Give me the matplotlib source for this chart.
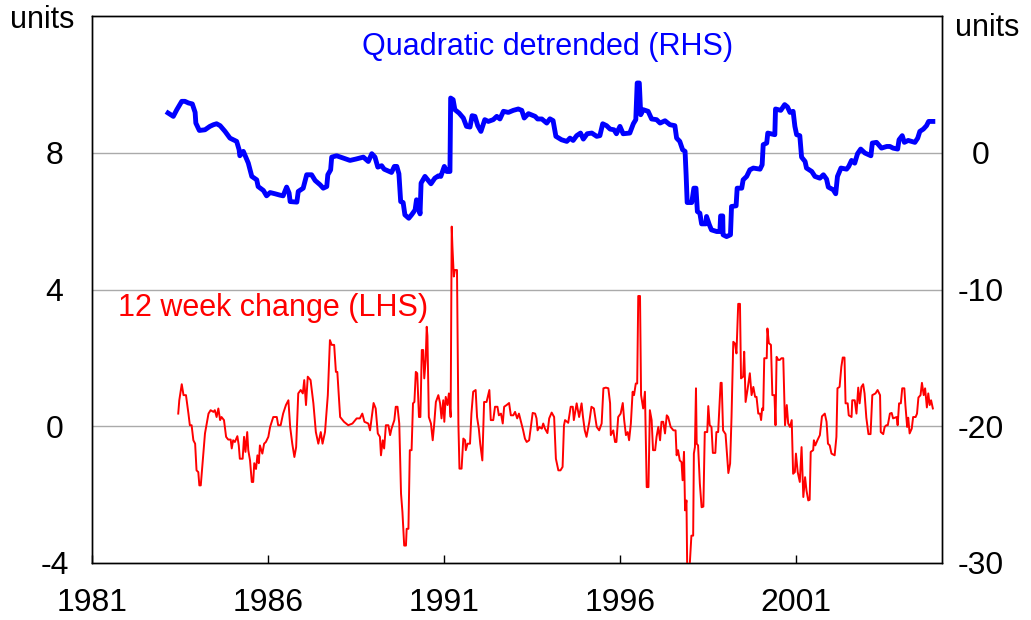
import matplotlib
matplotlib.use("Agg")
import matplotlib.pyplot as plt

plt.rcParams["font.family"] = ["Liberation Sans", "DejaVu Sans"]

# Quadratic detrended series (RHS units)
blue_x = [1983.16, 1983.31, 1983.41, 1983.55, 1983.64, 1983.74, 1983.85, 1983.93, 1983.95, 1984.05,
          1984.21, 1984.35, 1984.45, 1984.54, 1984.64, 1984.78, 1984.92, 1985.11, 1985.18, 1985.20,
          1985.30, 1985.37, 1985.44, 1985.54, 1985.68, 1985.72, 1985.87, 1985.96, 1986.06, 1986.20,
          1986.34, 1986.43, 1986.53, 1986.60, 1986.63, 1986.82, 1986.86, 1987.00, 1987.10, 1987.24,
          1987.34, 1987.48, 1987.57, 1987.67, 1987.70, 1987.78, 1987.81, 1987.95, 1988.14, 1988.33,
          1988.50, 1988.71, 1988.85, 1988.95, 1989.04, 1989.12, 1989.23, 1989.30, 1989.51, 1989.59,
          1989.66, 1989.72, 1989.77, 1989.84, 1989.89, 1990.00, 1990.08, 1990.18, 1990.22, 1990.27,
          1990.32, 1990.35, 1990.46, 1990.54, 1990.63, 1990.74, 1990.84, 1990.91, 1991.01, 1991.08,
          1991.17, 1991.19, 1991.26, 1991.31, 1991.43, 1991.55, 1991.64, 1991.74, 1991.80, 1991.88,
          1991.96, 1992.05, 1992.16, 1992.26, 1992.40, 1992.50, 1992.59, 1992.69, 1992.83, 1992.97,
          1993.11, 1993.21, 1993.28, 1993.40, 1993.59, 1993.66, 1993.78, 1993.92, 1994.01, 1994.10,
          1994.18, 1994.34, 1994.49, 1994.58, 1994.67, 1994.77, 1994.88, 1994.96, 1995.07, 1995.20,
          1995.34, 1995.43, 1995.51, 1995.62, 1995.72, 1995.83, 1995.90, 1996.00, 1996.09, 1996.28,
          1996.38, 1996.45, 1996.49, 1996.55, 1996.59, 1996.66, 1996.80, 1996.90, 1997.04, 1997.14,
          1997.28, 1997.42, 1997.56, 1997.61, 1997.70, 1997.78, 1997.85, 1997.88, 1997.91, 1998.04,
          1998.10, 1998.16, 1998.20, 1998.27, 1998.32, 1998.44, 1998.46, 1998.54, 1998.60, 1998.75,
          1998.84, 1998.86, 1998.92, 1998.93, 1999.03, 1999.14, 1999.17, 1999.30, 1999.33, 1999.46,
          1999.50, 1999.60, 1999.69, 1999.79, 1999.98, 2000.04, 2000.07, 2000.17, 2000.20, 2000.40,
          2000.42, 2000.57, 2000.68, 2000.76, 2000.83, 2000.92, 2000.97, 2001.02, 2001.11, 2001.16,
          2001.26, 2001.30, 2001.45, 2001.54, 2001.68, 2001.78, 2001.87, 2001.92, 2002.06, 2002.13,
          2002.18, 2002.28, 2002.44, 2002.50, 2002.58, 2002.67, 2002.75, 2002.84, 2002.96, 2003.13,
          2003.17, 2003.29, 2003.43, 2003.58, 2003.67, 2003.76, 2003.89, 2003.93, 2004.02, 2004.08,
          2004.19, 2004.29, 2004.38, 2004.46, 2004.52, 2004.62, 2004.71, 2004.77, 2004.89]
blue_y = [2.91, 2.66, 3.15, 3.76, 3.76, 3.64, 3.57, 2.95, 2.17, 1.63,
          1.68, 1.93, 2.05, 2.12, 1.98, 1.56, 1.07, 0.83, 0.22, -0.22,
          0.10, -0.32, -0.75, -1.73, -1.98, -2.47, -2.76, -3.15, -2.91, -3.00,
          -3.10, -3.15, -2.51, -2.95, -3.57, -3.61, -2.83, -2.59, -1.61, -1.61,
          -2.03, -2.34, -2.59, -2.47, -1.61, -1.25, -0.32, -0.22, -0.39, -0.56,
          -0.46, -0.32, -0.64, -0.07, -0.32, -1.05, -0.95, -1.20, -1.44, -1.00,
          -1.00, -1.54, -3.57, -3.64, -4.54, -4.79, -4.54, -4.18, -3.44, -3.69,
          -4.47, -2.22, -1.73, -1.98, -2.27, -1.86, -1.69, -1.73, -1.00, -1.37,
          -1.37, 4.00, 3.88, 3.15, 2.90, 2.54, 1.93, 1.88, 2.71, 2.66,
          1.98, 1.56, 2.42, 2.29, 2.42, 2.66, 2.47, 3.03, 2.95, 3.10,
          3.20, 3.10, 2.54, 2.86, 2.66, 2.47, 2.47, 2.17, 2.48, 2.35,
          1.20, 0.95, 0.83, 1.07, 0.90, 1.25, 1.44, 1.00, 1.39, 1.44,
          1.20, 1.25, 2.12, 1.98, 1.73, 1.68, 1.39, 1.93, 1.39, 1.44,
          2.12, 2.42, 5.10, 5.10, 2.78, 3.15, 3.03, 2.47, 2.42, 2.17,
          2.34, 2.05, 1.98, 1.07, 0.83, 0.22, 0.10, -1.61, -3.64, -3.64,
          -2.59, -2.59, -4.30, -4.42, -5.20, -5.20, -4.66, -5.27, -5.64, -5.76,
          -5.76, -4.62, -4.62, -6.00, -6.13, -6.00, -3.93, -3.88, -2.59, -2.59,
          -1.98, -1.73, -1.25, -1.12, -1.20, -0.88, 0.59, 0.71, 1.44, 1.32,
          3.20, 3.10, 3.52, 3.35, 2.95, 3.03, 1.93, 1.32, 1.25, -0.32,
          -0.64, -1.12, -1.37, -1.73, -1.86, -1.61, -1.93, -2.51, -2.71, -3.00,
          -1.73, -1.12, -1.20, -1.00, -0.56, -0.76, -0.07, 0.27, -0.02, -0.22,
          0.71, 0.76, 0.34, 0.46, 0.46, 0.34, 0.27, 0.95, 1.25, 0.76,
          0.90, 0.83, 0.76, 1.07, 1.56, 1.73, 1.98, 2.29, 2.29]

# 12 week change series (LHS units)
red_x = [1983.45, 1983.48, 1983.55, 1983.60, 1983.67, 1983.74, 1983.78, 1983.83, 1983.88, 1983.93,
         1983.97, 1984.02, 1984.05, 1984.09, 1984.14, 1984.21, 1984.31, 1984.37, 1984.45, 1984.49,
         1984.54, 1984.59, 1984.64, 1984.68, 1984.75, 1984.81, 1984.87, 1984.94, 1984.97, 1985.01,
         1985.06, 1985.13, 1985.17, 1985.20, 1985.28, 1985.32, 1985.36, 1985.41, 1985.44, 1985.49,
         1985.54, 1985.58, 1985.61, 1985.66, 1985.70, 1985.74, 1985.77, 1985.84, 1985.89, 1985.94,
         1986.01, 1986.06, 1986.15, 1986.25, 1986.29, 1986.36, 1986.43, 1986.51, 1986.58, 1986.63,
         1986.69, 1986.75, 1986.80, 1986.86, 1986.93, 1986.99, 1987.03, 1987.08, 1987.13, 1987.21,
         1987.29, 1987.36, 1987.43, 1987.50, 1987.55, 1987.62, 1987.70, 1987.76, 1987.81, 1987.88,
         1987.93, 1987.97, 1988.05, 1988.16, 1988.28, 1988.40, 1988.52, 1988.61, 1988.68, 1988.74,
         1988.85, 1988.90, 1988.95, 1989.00, 1989.06, 1989.12, 1989.18, 1989.21, 1989.26, 1989.30,
         1989.35, 1989.42, 1989.47, 1989.51, 1989.59, 1989.63, 1989.68, 1989.73, 1989.78, 1989.82,
         1989.87, 1989.92, 1989.94, 1989.99, 1990.03, 1990.08, 1990.12, 1990.16, 1990.20, 1990.24,
         1990.29, 1990.33, 1990.37, 1990.41, 1990.44, 1990.48, 1990.51, 1990.53, 1990.57, 1990.63,
         1990.68, 1990.72, 1990.77, 1990.84, 1990.89, 1990.93, 1990.98, 1991.01, 1991.05, 1991.10,
         1991.14, 1991.19, 1991.22, 1991.24, 1991.28, 1991.31, 1991.37, 1991.41, 1991.44, 1991.50,
         1991.55, 1991.60, 1991.62, 1991.67, 1991.74, 1991.78, 1991.83, 1991.90, 1991.94, 1991.99,
         1992.03, 1992.09, 1992.14, 1992.21, 1992.29, 1992.33, 1992.40, 1992.45, 1992.52, 1992.56,
         1992.62, 1992.67, 1992.71, 1992.78, 1992.85, 1992.90, 1992.97, 1993.02, 1993.08, 1993.13,
         1993.19, 1993.25, 1993.30, 1993.35, 1993.42, 1993.47, 1993.52, 1993.59, 1993.63, 1993.66,
         1993.71, 1993.78, 1993.82, 1993.87, 1993.94, 1993.99, 1994.06, 1994.13, 1994.18, 1994.25,
         1994.31, 1994.37, 1994.41, 1994.44, 1994.53, 1994.60, 1994.66, 1994.69, 1994.77, 1994.84,
         1994.91, 1994.95, 1995.00, 1995.05, 1995.13, 1995.19, 1995.26, 1995.34, 1995.41, 1995.48,
         1995.53, 1995.60, 1995.67, 1995.72, 1995.74, 1995.81, 1995.86, 1995.90, 1995.95, 1996.02,
         1996.08, 1996.12, 1996.17, 1996.22, 1996.26, 1996.31, 1996.36, 1996.40, 1996.45, 1996.49,
         1996.52, 1996.57, 1996.60, 1996.66, 1996.71, 1996.76, 1996.81, 1996.85, 1996.90, 1996.94,
         1997.00, 1997.04, 1997.09, 1997.14, 1997.18, 1997.23, 1997.28, 1997.33, 1997.37, 1997.44,
         1997.52, 1997.58, 1997.61, 1997.65, 1997.70, 1997.75, 1997.78, 1997.82, 1997.85, 1997.89,
         1997.91, 1997.98, 1998.03, 1998.08, 1998.10, 1998.13, 1998.16, 1998.18, 1998.22, 1998.27,
         1998.32, 1998.37, 1998.41, 1998.48, 1998.51, 1998.55, 1998.60, 1998.64, 1998.71, 1998.74,
         1998.79, 1998.86, 1998.89, 1998.93, 1999.00, 1999.08, 1999.13, 1999.17, 1999.22, 1999.27,
         1999.31, 1999.36, 1999.41, 1999.44, 1999.50, 1999.53, 1999.57, 1999.63, 1999.69, 1999.74,
         1999.79, 1999.84, 1999.88, 1999.93, 1999.98, 2000.01, 2000.04, 2000.07, 2000.10, 2000.17,
         2000.19, 2000.23, 2000.29, 2000.33, 2000.39, 2000.42, 2000.45, 2000.50, 2000.54, 2000.59,
         2000.64, 2000.69, 2000.74, 2000.78, 2000.83, 2000.88, 2000.92, 2000.97, 2001.00, 2001.05,
         2001.11, 2001.16, 2001.21, 2001.26, 2001.30, 2001.35, 2001.39, 2001.42, 2001.49, 2001.51,
         2001.55, 2001.61, 2001.68, 2001.74, 2001.82, 2001.87, 2001.91, 2001.96, 2002.01, 2002.10,
         2002.15, 2002.18, 2002.24, 2002.29, 2002.33, 2002.38, 2002.41, 2002.47, 2002.50, 2002.58,
         2002.60, 2002.67, 2002.72, 2002.77, 2002.81, 2002.86, 2002.91, 2002.95, 2003.00, 2003.06,
         2003.12, 2003.17, 2003.26, 2003.32, 2003.39, 2003.41, 2003.48, 2003.52, 2003.57, 2003.61,
         2003.67, 2003.72, 2003.76, 2003.86, 2003.89, 2003.93, 2003.98, 2004.02, 2004.08, 2004.11,
         2004.16, 2004.19, 2004.23, 2004.29, 2004.33, 2004.40, 2004.44, 2004.48, 2004.54, 2004.58,
         2004.63, 2004.67, 2004.72, 2004.76, 2004.80, 2004.84, 2004.89]
red_y = [0.37, 0.76, 1.23, 0.91, 0.91, 0.37, 0.03, 0.03, -0.41, -0.51,
         -1.29, -1.34, -1.73, -1.73, -1.08, -0.21, 0.37, 0.47, 0.42, 0.47,
         0.27, 0.52, 0.18, 0.27, 0.18, -0.31, -0.39, -0.39, -0.65, -0.41,
         -0.46, -0.29, -0.56, -0.95, -0.95, -0.31, -0.75, -0.17, -0.70, -1.00,
         -1.63, -1.63, -1.08, -1.25, -0.85, -1.08, -0.56, -0.80, -0.51, -0.46,
         -0.31, -0.02, 0.27, 0.27, 0.03, 0.03, 0.37, 0.62, 0.76, -0.02,
         -0.51, -0.90, -0.61, 0.96, 1.06, 0.96, 1.35, 0.62, 1.45, 1.35,
         0.67, -0.17, -0.51, -0.17, -0.51, -0.17, 0.91, 2.52, 2.38, 2.38,
         1.59, 1.59, 0.27, 0.13, 0.03, 0.08, 0.23, 0.23, 0.37, 0.13,
         0.08, -0.12, 0.27, 0.68, 0.52, -0.21, -0.31, -0.85, -0.41, -0.65,
         0.03, 0.03, -0.26, -0.07, 0.18, 0.57, 0.57, 0.08, -1.97, -2.51,
         -3.49, -3.49, -3.00, -3.00, -0.70, -0.70, 0.67, 0.71, 1.59, 1.55,
         0.27, 0.27, 2.23, 2.23, 1.40, 1.94, 2.91, 2.64, 0.27, 0.08,
         -0.41, 0.03, 0.71, 0.91, 0.67, 0.23, 0.76, 0.13, 0.86, 0.62,
         0.96, 0.27, 5.84, 5.26, 4.38, 4.57, 4.57, 0.08, -1.24, -1.24,
         -0.36, -0.41, -0.70, -0.51, -0.51, 0.37, 1.01, 1.06, 0.27, -0.07,
         -0.51, -1.00, 0.71, 0.71, 1.06, 0.18, 0.18, 0.57, 0.57, 0.32,
         0.37, 0.08, 0.57, 0.62, 0.68, 0.32, 0.32, 0.42, 0.23, 0.37,
         0.13, -0.12, -0.36, -0.46, -0.41, -0.02, 0.39, 0.37, 0.23, -0.12,
         -0.02, -0.07, 0.08, -0.07, -0.20, 0.23, 0.40, 0.27, -0.95, -1.29,
         -1.29, -1.19, 0.03, 0.18, 0.10, 0.57, 0.57, 0.18, 0.67, 0.27,
         0.67, 0.27, -0.12, -0.31, 0.13, 0.57, 0.52, -0.02, -0.12, 0.08,
         1.11, 1.13, 1.11, 0.67, -0.26, -0.12, -0.46, -0.46, 0.27, 0.37,
         0.68, 0.18, -0.26, -0.17, -0.41, 0.08, 1.01, 0.91, 1.25, 1.25,
         3.81, 3.81, 0.91, 0.52, 1.01, -1.78, -1.78, 0.47, 0.18, -0.70,
         -0.70, -0.31, -0.02, -0.41, 0.13, 0.13, -0.21, 0.32, 0.27, -0.02,
         -0.12, -0.12, -0.85, -0.70, -1.00, -1.05, -1.58, -0.75, -2.46, -2.17,
         -4.10, -4.10, -3.20, -3.20, -0.80, -0.61, 1.11, -0.51, -0.56, -1.68,
         -2.37, -2.35, -0.17, -0.17, 0.59, 0.03, -0.02, -0.78, -0.78, -0.17,
         -0.17, 1.27, 1.27, -0.12, -0.23, -1.37, -1.09, 0.27, 2.47, 2.42,
         2.13, 3.58, 3.58, 1.40, 1.45, 2.18, 0.71, 1.11, 1.55, 0.91,
         1.15, 0.86, 0.86, 0.37, 0.37, 0.18, 0.52, 0.47, 1.99, 1.99,
         2.86, 2.43, 2.38, 0.91, 0.91, 0.03, 2.03, 1.94, 1.94, 1.99,
         1.99, 0.03, 0.62, 0.08, -0.02, 0.18, -1.39, -1.34, -0.80, -1.34,
         -1.63, -0.61, -2.07, -1.49, -1.88, -2.17, -2.15, -0.75, -0.70, -0.41,
         -0.56, -0.41, -0.26, 0.29, 0.37, 0.13, -0.51, -0.56, -0.80, -0.85,
         -0.31, 1.11, 1.15, 1.74, 2.01, 2.01, 0.67, 0.67, 0.32, 0.27,
         0.76, 0.76, 0.37, 1.13, 0.67, 1.15, 1.23, 0.96, 0.25, -0.23,
         -0.23, 0.91, 0.96, 1.06, 0.91, -0.17, -0.23, -0.02, 0.03, 0.03,
         0.37, 0.39, 0.23, 0.27, 0.03, 0.67, 0.67, 1.11, 1.11, 0.62,
         -0.02, 0.25, -0.21, -0.07, 0.27, 0.27, 0.37, 0.84, 0.91, 1.27,
         0.91, 1.11, 0.55, 0.96, 0.62, 0.76, 0.52]

left_ticks = [-4, 0, 4, 8]
right_ticks = [-30, -20, -10, 0]
year_ticks = [1981, 1986, 1991, 1996, 2001]

fig = plt.figure(figsize=(10.31, 6.2), dpi=100)
ax = fig.add_axes([92 / 1031, 1 - 563 / 620, 850 / 1031, 547 / 620])
ax2 = ax.twinx()

ax.plot(red_x, red_y, color="#ff0000", lw=1.4, zorder=3)
ax2.plot(blue_x, blue_y, color="#0000ff", lw=3.5, zorder=3)

ax.set_xlim(1981, 2005.15)
ax.set_ylim(-4, 12)
ax2.set_ylim(-30, 10)

ax.set_yticks(left_ticks)
ax.set_yticklabels([str(t) for t in left_ticks])
ax2.set_yticks(right_ticks)
ax2.set_yticklabels([str(t) for t in right_ticks])
ax.set_xticks(year_ticks)
ax.set_xticklabels([str(t) for t in year_ticks])

for g in [0, 4, 8]:
    ax.axhline(g, color="#aaaaaa", lw=1.0, zorder=1)

ax.tick_params(axis="x", direction="in", length=6, width=1, labelsize=23, pad=18, top=False)
ax.tick_params(axis="y", length=0, labelsize=23, pad=27)
ax2.tick_params(axis="y", length=0, labelsize=23, pad=28)
for lab in ax.get_yticklabels():
    lab.set_horizontalalignment("center")
for lab in ax2.get_yticklabels():
    lab.set_horizontalalignment("center")

for a in (ax, ax2):
    for s in a.spines.values():
        s.set_color("black")
        s.set_linewidth(1.0)

ax.text(1993.93, 11.08, "Quadratic detrended (RHS)", color="#0000ff", fontsize=22,
        ha="center", va="center")
ax.text(1981.74, 3.46, "12 week change (LHS)", color="#ff0000", fontsize=22,
        ha="left", va="center")

fig.text(10 / 1031, 1 - 28 / 620, "units", fontsize=22, ha="left", va="baseline")
fig.text(955 / 1031, 1 - 36 / 620, "units", fontsize=22, ha="left", va="baseline")

fig.savefig("out.png", dpi=100)
